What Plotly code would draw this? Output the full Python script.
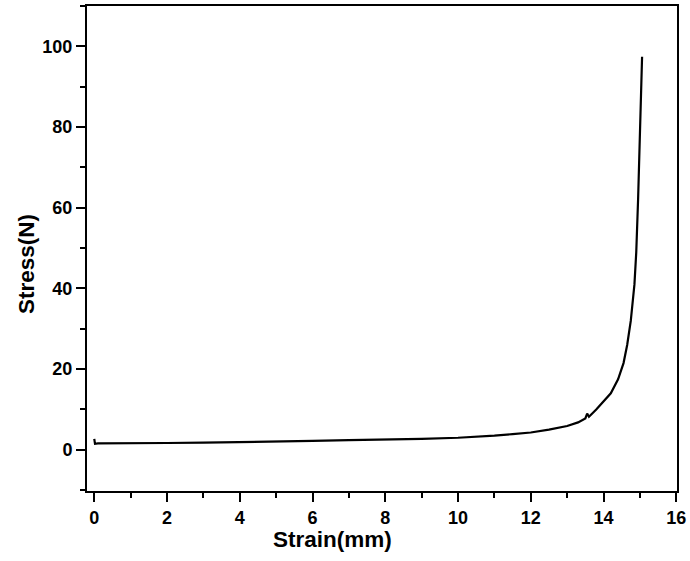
import plotly.graph_objects as go

strain = [0, 0.02, 0.1, 1, 2, 3, 4, 5, 6, 7, 8, 9, 10, 10.5, 11, 11.5, 12, 12.5, 13,
          13.3, 13.5, 13.55, 13.6, 13.8, 14.0, 14.2, 14.4, 14.55, 14.65, 14.75,
          14.85, 14.9, 14.95, 15.0, 15.06]
stress = [2.7, 1.5, 1.6, 1.6, 1.7, 1.8, 1.9, 2.1, 2.2, 2.4, 2.5, 2.7, 3.0, 3.2, 3.5,
          3.9, 4.3, 5.0, 5.9, 6.8, 7.8, 9.0, 8.2, 10, 12, 14, 17.5, 21.5, 26, 32,
          41, 49, 62, 78, 97.4]

x_ticks = [0, 2, 4, 6, 8, 10, 12, 14, 16]
y_ticks = [0, 20, 40, 60, 80, 100]

FONT = "Liberation Sans"

fig = go.Figure()
fig.add_trace(go.Scatter(x=strain, y=stress, mode="lines",
                         line=dict(color="black", width=2.2), showlegend=False))

axis_common = dict(
    showgrid=False, zeroline=False, showline=True, linecolor="black", linewidth=2,
    mirror=True, ticks="outside", ticklen=9, tickwidth=2, tickcolor="black",
    automargin=False,
    tickfont=dict(family=FONT, size=18, color="black", weight="bold"),
)

fig.update_xaxes(range=[-0.2, 16.02], tickvals=x_ticks,
                 minor=dict(dtick=1, ticks="outside", ticklen=5, tickwidth=2,
                            tickcolor="black"),
                 **axis_common)
fig.update_yaxes(range=[-10.2, 110], tickvals=y_ticks,
                 minor=dict(dtick=10, ticks="outside", ticklen=5, tickwidth=2,
                            tickcolor="black"),
                 **axis_common)

fig.add_annotation(text="Strain(mm)", xref="paper", yref="paper", x=0.416,
                   y=-0.1, yanchor="middle", xanchor="center", showarrow=False,
                   font=dict(family=FONT, size=22.5, color="black", weight="bold"))
fig.add_annotation(text="Stress(N)", xref="paper", yref="paper", x=-0.1034,
                   y=0.468, textangle=-90, xanchor="center",
                   yanchor="middle", showarrow=False,
                   font=dict(family=FONT, size=22.5, color="black", weight="bold"))

fig.update_layout(width=690, height=561, margin=dict(l=87, r=13, t=6, b=70),
                  plot_bgcolor="white", paper_bgcolor="white")

fig.write_html("out.html", config={"displayModeBar": False},
               post_script="document.body.style.margin='0';document.body.style.overflow='hidden';")
